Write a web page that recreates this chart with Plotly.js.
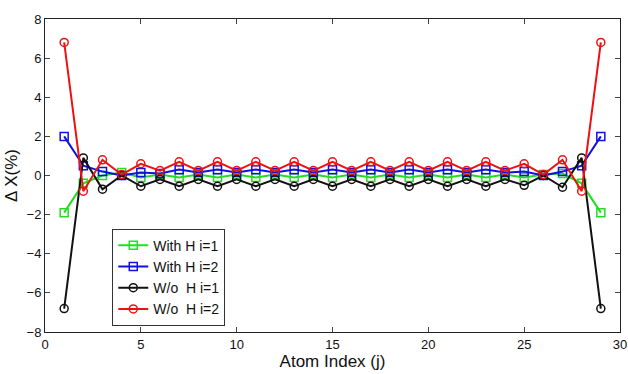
<!DOCTYPE html>
<html><head><meta charset="utf-8">
<script src="https://cdn.plot.ly/plotly-3.0.1.min.js"></script>
<style>html,body{margin:0;padding:0;background:#fff}#c{width:628px;height:374px}</style>
</head><body><div id="c"></div>
<script>
const atomIndex = [1,2,3,4,5,6,7,8,9,10,11,12,13,14,15,16,17,18,19,20,21,22,23,24,25,26,27,28,29];
const withH_i1 = [-1.9,-0.4,0.0,0.15,-0.1,0.05,-0.1,0.05,-0.1,0.05,-0.1,0.05,-0.1,0.05,-0.1,0.05,-0.1,0.05,-0.1,0.05,-0.1,0.05,-0.1,0.05,-0.1,0.05,0.1,-0.4,-1.9];
const withH_i2 = [2.0,0.5,0.2,0.0,0.15,0.1,0.3,0.15,0.3,0.15,0.3,0.15,0.3,0.15,0.3,0.15,0.3,0.15,0.3,0.15,0.3,0.15,0.3,0.15,0.2,0.0,0.2,0.5,2.0];
const woH_i1 = [-6.8,0.9,-0.7,0.0,-0.55,-0.2,-0.55,-0.2,-0.55,-0.2,-0.55,-0.2,-0.55,-0.2,-0.55,-0.2,-0.55,-0.2,-0.55,-0.2,-0.55,-0.2,-0.55,-0.2,-0.5,0.0,-0.6,0.9,-6.8];
const woH_i2 = [6.8,-0.8,0.8,0.05,0.6,0.25,0.7,0.25,0.7,0.25,0.7,0.25,0.7,0.25,0.7,0.25,0.7,0.25,0.7,0.25,0.7,0.25,0.7,0.25,0.6,0.05,0.8,-0.8,6.8];
const seriesNames = ['With H i=1','With H i=2','W/o  H i=1','W/o  H i=2'];

const mk = (y, name, color, symbol) => ({
  x: atomIndex, y: y, name: name, type: 'scatter', mode: 'lines+markers',
  line: {color: color, width: 2},
  marker: {symbol: symbol, size: 8, color: color, line: {color: color, width: 1.5}}
});
const data = [
  mk(withH_i1, seriesNames[0], '#22dd22', 'square-open'),
  mk(withH_i2, seriesNames[1], '#1010e0', 'square-open'),
  mk(woH_i1, seriesNames[2], '#111111', 'circle-open'),
  mk(woH_i2, seriesNames[3], '#ee1111', 'circle-open')
];
const fontFam = '"Liberation Sans Narrow", "Arial Narrow", "Liberation Sans", Arial, sans-serif';
const layout = {
  width: 628, height: 374,
  margin: {l: 45, r: 8, t: 19, b: 42},
  paper_bgcolor: '#fff', plot_bgcolor: '#fff',
  font: {family: fontFam, size: 13, color: '#111'},
  showlegend: true,
  legend: {x: 0.117, y: 0.33, xanchor: 'left', yanchor: 'top', bgcolor: '#fff',
           bordercolor: '#333', borderwidth: 1, font: {size: 14, family: fontFam}, tracegroupgap: 0},
  xaxis: {range: [0, 30], dtick: 5, tick0: 0, ticks: 'inside', ticklen: 5, mirror: 'ticks',
          showline: true, linecolor: '#222', linewidth: 1, showgrid: false, zeroline: false,
          tickfont: {size: 13}, title: {text: 'Atom Index (j)', font: {size: 17}, standoff: 2}},
  yaxis: {range: [-8, 8], dtick: 2, tick0: 0, ticks: 'inside', ticklen: 5, mirror: 'ticks',
          showline: true, linecolor: '#222', linewidth: 1, showgrid: false, zeroline: false,
          tickfont: {size: 13}, title: {text: 'Δ X(%)', font: {size: 17}, standoff: 4}}
};
Plotly.newPlot('c', data, layout, {displayModeBar: false, staticPlot: true});
</script></body></html>
